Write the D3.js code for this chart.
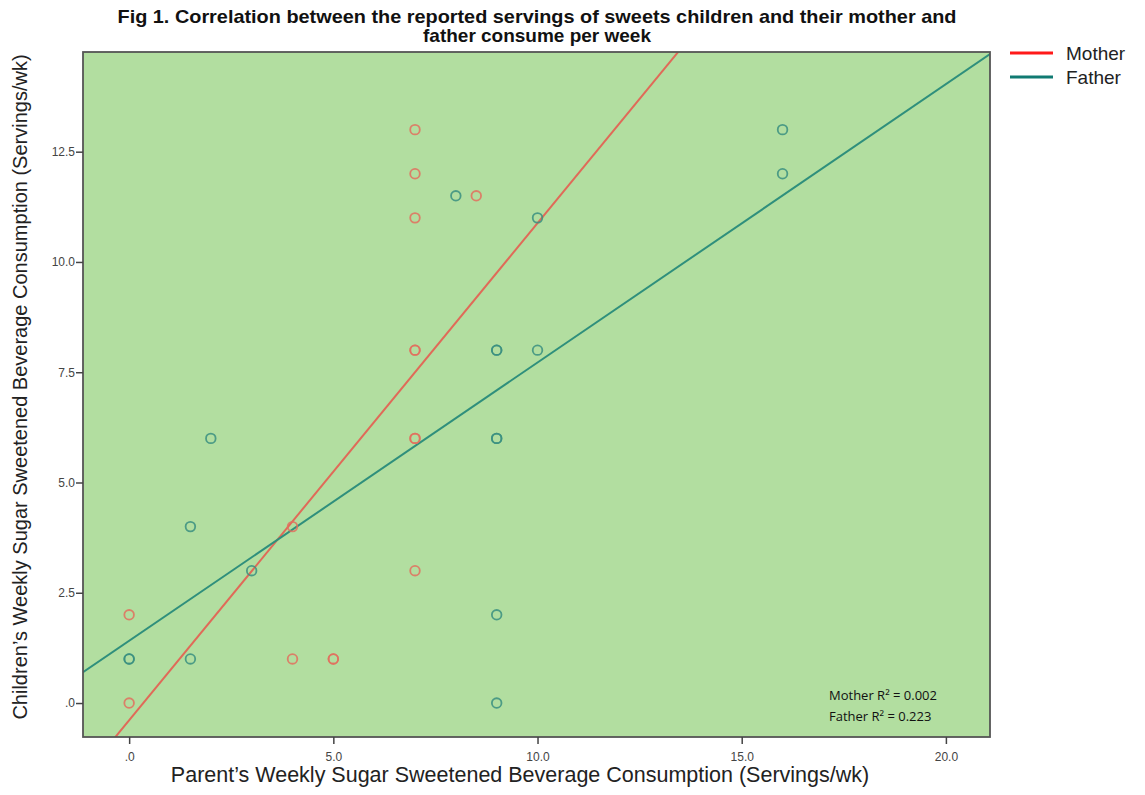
<!DOCTYPE html>
<html><head><meta charset="utf-8">
<script src="https://cdn.jsdelivr.net/npm/d3@7"></script>
<style>body{margin:0;background:#fff;}svg{display:block;}</style>
</head><body>
<svg id="chart" width="1145" height="795"></svg>
<script>
const titleLines = ["Fig 1. Correlation between the reported servings of sweets children and their mother and", "father consume per week"];
const xLabel = "Parent\u2019s Weekly Sugar Sweetened Beverage Consumption (Servings/wk)";
const yLabel = "Children\u2019s Weekly Sugar Sweetened Beverage Consumption (Servings/wk)";
const xTicks = [0, 5, 10, 15, 20];
const xTickLabels = [".0", "5.0", "10.0", "15.0", "20.0"];
const yTicks = [0, 2.5, 5, 7.5, 10, 12.5];
const yTickLabels = [".0", "2.5", "5.0", "7.5", "10.0", "12.5"];
const seriesNames = ["Mother", "Father"];
const motherX = [0, 0, 4, 4, 5, 5, 7, 7, 7, 7, 7, 7, 7, 7, 8.5];
const motherY = [2, 0, 4, 1, 1, 1, 13, 12, 11, 8, 8, 6, 6, 3, 11.5];
const fatherX = [0, 0, 1.5, 1.5, 2, 3, 8, 10, 9, 9, 10, 9, 9, 9, 9, 16, 16];
const fatherY = [1, 1, 4, 1, 6, 3, 11.5, 11, 8, 8, 8, 6, 6, 2, 0, 13, 12];
const fitIntercepts = [-0.39, 1.41];
const fitSlopes = [1.127, 0.631];
const rSquared = ["Mother R\u00b2 = 0.002", "Father R\u00b2 = 0.223"];

const svg = d3.select("#chart");
const L = 83, R = 990, T = 52, B = 737;
const x = d3.scaleLinear().domain([-1.13, 21.08]).range([L, R]);
const y = d3.scaleLinear().domain([-0.77, 14.76]).range([B, T]);

const pointColors = ["#e2705e", "#3a8f80"];
const lineColors = ["#e06a58", "#2f8f7c"];
const legendColors = ["#ff1a1a", "#107a72"];

svg.append("rect").attr("x", L).attr("y", T).attr("width", R - L).attr("height", B - T)
  .attr("fill", "#b2dea0");

svg.append("clipPath").attr("id", "clip").append("rect")
  .attr("x", L).attr("y", T).attr("width", R - L).attr("height", B - T);

// fit lines
const g = svg.append("g").attr("clip-path", "url(#clip)");
const xd = x.domain();
seriesNames.forEach((n, i) => {
  g.append("line")
    .attr("x1", x(xd[0])).attr("y1", y(fitIntercepts[i] + fitSlopes[i] * xd[0]))
    .attr("x2", x(xd[1])).attr("y2", y(fitIntercepts[i] + fitSlopes[i] * xd[1]))
    .attr("stroke", lineColors[i]).attr("stroke-width", 2);
});

// points
const series = [[motherX, motherY], [fatherX, fatherY]];
series.forEach((s, i) => {
  g.selectAll(null).data(s[0].map((v, k) => [v, s[1][k]])).enter().append("circle")
    .attr("cx", d => x(d[0])).attr("cy", d => y(d[1])).attr("r", 4.8)
    .attr("fill", "none").attr("stroke", pointColors[i]).attr("stroke-width", 1.8)
    .attr("stroke-opacity", 0.85);
});

// frame
svg.append("rect").attr("x", L).attr("y", T).attr("width", R - L).attr("height", B - T)
  .attr("fill", "none").attr("stroke", "#555").attr("stroke-width", 1.8);

// axes
const xAxis = d3.axisBottom(x).tickValues(xTicks).tickSize(7).tickSizeOuter(0)
  .tickFormat((d, i) => xTickLabels[i]);
const xg = svg.append("g").attr("transform", `translate(0,${B})`).call(xAxis);
xg.select(".domain").remove();
xg.selectAll(".tick line").attr("stroke", "#444").attr("stroke-width", 1.5);
xg.selectAll(".tick text").attr("fill", "#444").attr("font-family", "Liberation Sans, Arial, sans-serif")
  .attr("font-size", 12).attr("dy", "1.2em");

const yAxis = d3.axisLeft(y).tickValues(yTicks).tickSize(7).tickSizeOuter(0)
  .tickFormat((d, i) => yTickLabels[i]);
const yg = svg.append("g").attr("transform", `translate(${L},0)`).call(yAxis);
yg.select(".domain").remove();
yg.selectAll(".tick line").attr("stroke", "#444").attr("stroke-width", 1.5);
yg.selectAll(".tick text").attr("fill", "#444").attr("font-family", "Liberation Sans, Arial, sans-serif")
  .attr("font-size", 12).attr("x", -8);

// title
const titleLens = [839, 228];
svg.append("text").attr("text-anchor", "middle")
  .attr("font-family", "Liberation Sans, Arial, sans-serif").attr("font-weight", "bold")
  .attr("font-size", 19).attr("fill", "#111")
  .selectAll("tspan").data(titleLines).enter().append("tspan")
  .attr("x", 537).attr("y", (d, i) => 23 + i * 19)
  .attr("textLength", (d, i) => titleLens[i]).attr("lengthAdjust", "spacingAndGlyphs")
  .text(d => d);

// axis labels
svg.append("text").attr("x", 520).attr("y", 782).attr("text-anchor", "middle")
  .attr("font-family", "Liberation Sans, Arial, sans-serif")
  .attr("font-size", 21.5).attr("fill", "#222").text(xLabel);
svg.append("text").attr("transform", "translate(27,387) rotate(-90)").attr("text-anchor", "middle")
  .attr("font-family", "Liberation Sans, Arial, sans-serif")
  .attr("font-size", 20).attr("fill", "#222").text(yLabel);

// legend
seriesNames.forEach((n, i) => {
  const ly = 53 + i * 24;
  svg.append("line").attr("x1", 1010).attr("x2", 1053).attr("y1", ly).attr("y2", ly)
    .attr("stroke", legendColors[i]).attr("stroke-width", 3);
  svg.append("text").attr("x", 1066).attr("y", ly + 7)
    .attr("font-family", "Liberation Sans, Arial, sans-serif").attr("font-size", 19)
    .attr("fill", "#222").text(n);
});

// R squared annotation
svg.append("g").selectAll("text").data(rSquared).enter().append("text")
  .attr("x", 829).attr("y", (d, i) => 700 + i * 21)
  .attr("font-family", "Open Sans, Lato, sans-serif").attr("font-size", 13)
  .attr("fill", "#111").text(d => d);
</script>
</body></html>
